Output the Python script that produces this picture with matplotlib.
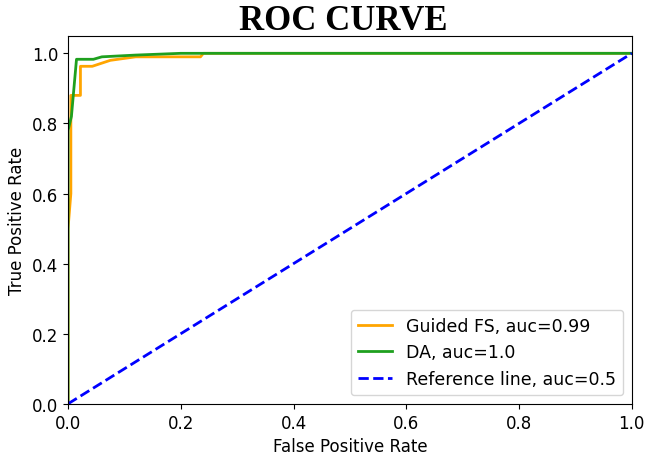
import matplotlib.pyplot as plt

# ROC points
fpr_fs = [0.0, 0.0, 0.005, 0.005, 0.022, 0.022, 0.043, 0.075, 0.12, 0.235, 0.24, 1.0]
tpr_fs = [0.0, 0.5, 0.6, 0.88, 0.88, 0.963, 0.963, 0.98, 0.99, 0.99, 1.0, 1.0]

fpr_da = [0.0, 0.0, 0.006, 0.015, 0.045, 0.06, 0.12, 0.2, 1.0]
tpr_da = [0.0, 0.78, 0.82, 0.983, 0.983, 0.99, 0.995, 1.0, 1.0]

ref_x = [0.0, 1.0]
ref_y = [0.0, 1.0]

fig = plt.figure(figsize=(6.48, 4.6), dpi=100)
ax = fig.add_axes([0.105, 0.12, 0.87, 0.8])

ax.plot(fpr_fs, tpr_fs, color='orange', lw=2, label='Guided FS, auc=0.99')
ax.plot(fpr_da, tpr_da, color='#1fa01f', lw=2, label='DA, auc=1.0')
ax.plot(ref_x, ref_y, color='blue', lw=2, linestyle='--', label='Reference line, auc=0.5')

ax.set_xlim(0, 1.0)
ax.set_ylim(0, 1.05)
ax.set_xlabel('False Positive Rate', fontsize=12)
ax.set_ylabel('True Positive Rate', fontsize=12)
ax.tick_params(labelsize=12)
ax.legend(loc='lower right', fontsize=12.5)

fig.suptitle('ROC CURVE', x=0.53, y=0.99, fontsize=25, fontweight='bold', family='Liberation Serif')

plt.savefig('out.png', dpi=100)
